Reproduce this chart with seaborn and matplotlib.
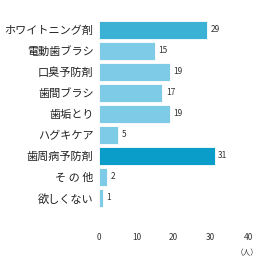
import matplotlib
matplotlib.use("Agg")
import matplotlib.pyplot as plt
import seaborn as sns
import pandas as pd

categories = ["ホワイトニング剤", "電動歯ブラシ", "口臭予防剤", "歯間ブラシ", "歯垢とり",
              "ハグキケア", "歯周病予防剤", "そ の 他", "欲しくない"]
values = [29, 15, 19, 17, 19, 5, 31, 2, 1]
colors = ["#3cb1d6", "#7ecbe7", "#7ecbe7", "#7ecbe7", "#7ecbe7",
          "#7ecbe7", "#0b9dca", "#7ecbe7", "#7ecbe7"]
xticks = [0, 10, 20, 30, 40]

sns.set_theme(style="white")
plt.rcParams['font.family'] = ['Noto Sans CJK JP', 'DejaVu Sans']

df = pd.DataFrame({"cat": categories, "val": values})
fig = plt.figure(figsize=(2.6, 2.59), dpi=100)
ax = fig.add_axes([0.381, 0.195, 0.573, 0.73])
sns.barplot(data=df, y="cat", x="val", hue="cat", palette=colors, legend=False,
            orient="h", width=0.85, ax=ax, edgecolor="white", linewidth=0.6,
            saturation=1)
for i, v in enumerate(values):
    ax.text(v + 1, i, str(v), va="center", ha="left", fontsize=6, color="#333333")
ax.set_xlim(0, 40)
ax.set_ylim(8.5, -0.5)
ax.set_xticks(xticks)
ax.set_xticklabels([str(t) for t in xticks], fontsize=6, color="#333333")
ax.tick_params(axis="x", length=0, pad=18)
ax.tick_params(axis="y", length=0, pad=4, labelsize=8, labelcolor="#222222")
ax.set_xlabel("")
ax.set_ylabel("")
for s in ax.spines.values():
    s.set_visible(False)
fig.text(0.952, 0.005, "（人）", ha="center", va="bottom", fontsize=5.5, color="#333333")
fig.savefig("out.png", dpi=100)
